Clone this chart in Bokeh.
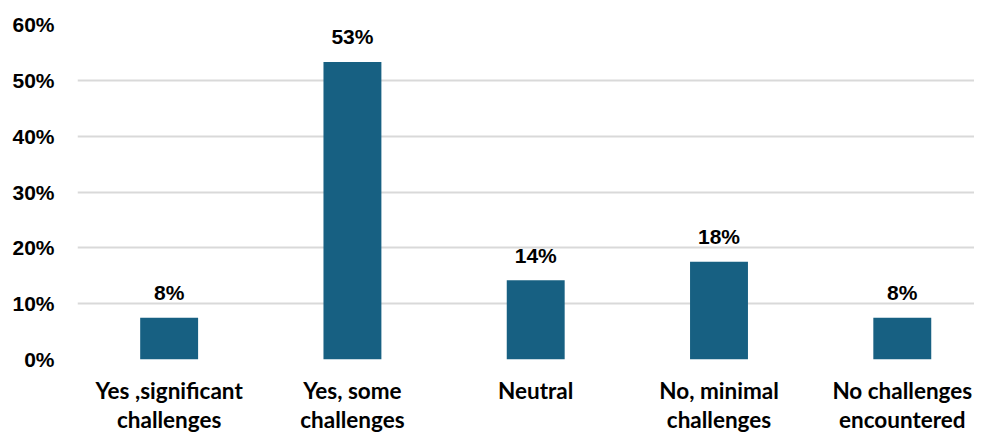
from bokeh.plotting import figure
from bokeh.models import Range1d, FixedTicker, PrintfTickFormatter, ColumnDataSource
from bokeh.core.properties import value
from bokeh.embed import file_html
from bokeh.resources import INLINE

categories = ["Yes ,significant\nchallenges", "Yes, some\nchallenges", "Neutral",
              "No, minimal\nchallenges", "No challenges\nencountered"]
values = [7.5, 53.3, 14.2, 17.5, 7.5]
labels = ["8%", "53%", "14%", "18%", "8%"]
y_ticks = [0, 10, 20, 30, 40, 50, 60]

xs = list(range(len(categories)))
src = ColumnDataSource(dict(x=xs, top=values, label=labels))

p = figure(frame_width=897, frame_height=335, output_backend="svg", toolbar_location=None,
           x_range=Range1d(-0.5, 4.394), y_range=Range1d(0, 60),
           min_border_left=77, min_border_right=0, min_border_top=24, min_border_bottom=60)
p.outline_line_color = None
p.background_fill_color = "white"

p.vbar(x="x", top="top", bottom=0, width=0.316, source=src,
       fill_color="#176082", line_color=None)
p.text(x="x", y="top", text="label", source=src, text_align="center",
       text_baseline="alphabetic", y_offset=-25, text_font=value("Liberation Sans"),
       text_font_style="bold", text_font_size="21px", text_color="#000000")

p.xgrid.grid_line_color = None
p.ygrid.grid_line_color = "#d9d9d9"
p.ygrid.grid_line_width = 2
p.ygrid.ticker = FixedTicker(ticks=y_ticks)

p.yaxis.ticker = FixedTicker(ticks=y_ticks)
p.yaxis.formatter = PrintfTickFormatter(format="%d%%")
p.yaxis.axis_line_color = None
p.yaxis.major_tick_line_color = None
p.yaxis.minor_tick_line_color = None
p.yaxis.major_label_standoff = 17
p.yaxis.major_label_text_font = "Liberation Sans"
p.yaxis.major_label_text_font_style = "bold"
p.yaxis.major_label_text_font_size = "21px"
p.yaxis.major_label_text_color = "#000000"

p.xaxis.ticker = FixedTicker(ticks=xs)
p.xaxis.major_label_overrides = {i: c for i, c in zip(xs, categories)}
p.xaxis.axis_line_color = None
p.xaxis.major_tick_line_color = None
p.xaxis.minor_tick_line_color = None
p.xaxis.major_label_standoff = 11
p.xaxis.major_label_text_font = "Lato"
p.xaxis.major_label_text_font_style = "bold"
p.xaxis.major_label_text_font_size = "22.5px"
p.xaxis.major_label_text_color = "#000000"
p.xaxis.major_label_text_line_height = 1.1

open("out.html", "w").write(file_html(p, INLINE))
